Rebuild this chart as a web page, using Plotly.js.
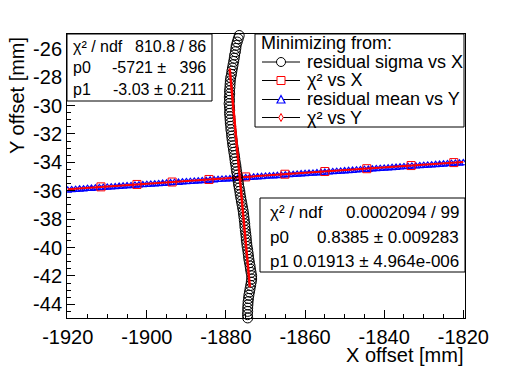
<!DOCTYPE html>
<html>
<head>
<meta charset="utf-8">
<script src="https://cdn.plot.ly/plotly-3.0.1.min.js"></script>
<style>
  html, body { margin: 0; padding: 0; background: #fff; }
  #plot { width: 518px; height: 370px; }
</style>
</head>
<body>
<div id="plot"></div>
<script>
// residual sigma vs X (black open circles)
var sigmaX = [-1876.65,-1876.9,-1877.15,-1877.4,-1877.5,-1877.6,-1877.8,-1877.9,-1878.05,-1878.2,
  -1878.35,-1878.5,-1878.6,-1878.8,-1878.9,-1878.95,-1879.0,-1879.1,-1879.05,-1879.15,
  -1879.1,-1879.2,-1879.1,-1879.05,-1879.1,-1879.0,-1878.95,-1878.9,-1878.8,-1878.75,
  -1878.6,-1878.55,-1878.45,-1878.35,-1878.25,-1878.1,-1878.0,-1877.85,-1877.75,-1877.65,
  -1877.5,-1877.4,-1877.3,-1877.15,-1877.0,-1876.9,-1876.8,-1876.65,-1876.5,-1876.4,
  -1876.25,-1876.1,-1875.95,-1875.8,-1875.65,-1875.55,-1875.45,-1875.35,-1875.25,-1875.2,
  -1875.1,-1875.0,-1874.9,-1874.85,-1874.75,-1874.65,-1874.5,-1874.4,-1874.3,-1874.2,
  -1874.05,-1873.9,-1873.8,-1873.65,-1873.5,-1873.5,-1873.6,-1873.75,-1873.9,-1874.05,
  -1874.2,-1874.3,-1874.4,-1874.45,-1874.5,-1874.5,-1874.55,-1874.5];
var sigmaY = [-25.07,-25.30,-25.53,-25.76,-25.98,-26.21,-26.44,-26.67,-26.90,-27.13,
  -27.36,-27.58,-27.81,-28.04,-28.27,-28.50,-28.73,-28.96,-29.18,-29.41,
  -29.64,-29.87,-30.10,-30.33,-30.56,-30.79,-31.01,-31.24,-31.47,-31.70,
  -31.93,-32.16,-32.39,-32.61,-32.84,-33.07,-33.30,-33.53,-33.76,-33.99,
  -34.21,-34.44,-34.67,-34.90,-35.13,-35.36,-35.59,-35.81,-36.04,-36.27,
  -36.50,-36.73,-36.96,-37.19,-37.41,-37.64,-37.87,-38.10,-38.33,-38.56,
  -38.79,-39.02,-39.24,-39.47,-39.70,-39.93,-40.16,-40.39,-40.62,-40.84,
  -41.07,-41.30,-41.53,-41.76,-41.99,-42.22,-42.44,-42.67,-42.90,-43.13,
  -43.36,-43.59,-43.82,-44.04,-44.27,-44.50,-44.73,-44.96];

// residual mean vs Y (blue open triangles)
var meanX = [-1920,-1919,-1918,-1917,-1916,-1915,-1914,-1913,-1912,-1911,
  -1910,-1909,-1908,-1907,-1906,-1905,-1904,-1903,-1902,-1901,
  -1900,-1899,-1898,-1897,-1896,-1895,-1894,-1893,-1892,-1891,
  -1890,-1889,-1888,-1887,-1886,-1885,-1884,-1883,-1882,-1881,
  -1880,-1879,-1878,-1877,-1876,-1875,-1874,-1873,-1872,-1871,
  -1870,-1869,-1868,-1867,-1866,-1865,-1864,-1863,-1862,-1861,
  -1860,-1859,-1858,-1857,-1856,-1855,-1854,-1853,-1852,-1851,
  -1850,-1849,-1848,-1847,-1846,-1845,-1844,-1843,-1842,-1841,
  -1840,-1839,-1838,-1837,-1836,-1835,-1834,-1833,-1832,-1831,
  -1830,-1829,-1828,-1827,-1826,-1825,-1824,-1823,-1822,-1821,-1820];
var meanY = [-35.98,-35.95,-35.93,-35.90,-35.89,-35.86,-35.85,-35.82,-35.80,-35.79,
  -35.77,-35.75,-35.74,-35.71,-35.69,-35.67,-35.66,-35.63,-35.61,-35.60,
  -35.58,-35.56,-35.54,-35.52,-35.50,-35.48,-35.46,-35.44,-35.43,-35.40,
  -35.38,-35.37,-35.35,-35.33,-35.31,-35.29,-35.27,-35.25,-35.23,-35.21,
  -35.19,-35.18,-35.16,-35.14,-35.12,-35.10,-35.08,-35.06,-35.04,-35.02,
  -35.00,-34.98,-34.97,-34.95,-34.93,-34.91,-34.89,-34.87,-34.85,-34.83,
  -34.81,-34.79,-34.78,-34.76,-34.74,-34.72,-34.70,-34.68,-34.66,-34.64,
  -34.62,-34.60,-34.58,-34.56,-34.54,-34.52,-34.51,-34.49,-34.47,-34.45,
  -34.43,-34.41,-34.39,-34.37,-34.35,-34.33,-34.31,-34.29,-34.28,-34.26,
  -34.24,-34.22,-34.20,-34.18,-34.16,-34.14,-34.12,-34.10,-34.08,-34.07,-34.05];

// chi2 vs X (red open squares)
var chiX = [-1911.6,-1902.5,-1893.6,-1884.3,-1875.0,-1865.1,-1855.0,-1844.4,-1833.2,-1822.4];
var chiY = [-35.73,-35.56,-35.39,-35.21,-35.03,-34.84,-34.65,-34.45,-34.23,-34.02];

// fit lines (red)
var fitVx = [-1879.05, -1873.95];
var fitVy = [-27.4, -42.8];
var fitHx = [-1920, -1820];
var fitHy = [-35.89, -33.98];

// axis ticks
var xTicks = [-1920, -1900, -1880, -1860, -1840, -1820];
var xTickText = ['-1920', '-1900', '-1880', '-1860', '-1840', '-1820'];
var yTicks = [-44, -42, -40, -38, -36, -34, -32, -30, -28, -26];
var yTickText = ['-44', '-42', '-40', '-38', '-36', '-34', '-32', '-30', '-28', '-26'];

// legend + stat boxes text
var legendHeader = 'Minimizing from:';
var legendNames = ['residual sigma vs X', '\u03c7\u00b2 vs X', 'residual mean vs Y', '\u03c7\u00b2 vs Y'];
var stat1Labels = ['\u03c7\u00b2 / ndf', 'p0', 'p1'];
var stat1Values = ['810.8 / 86', '-5721 \u00b1 \u00a0\u00a0396', '-3.03 \u00b1 0.211'];
var stat2Labels = ['\u03c7\u00b2 / ndf', 'p0', 'p1'];
var stat2Values = ['0.0002094 / 99', '0.8385 \u00b1 0.009283', '0.01913 \u00b1 4.964e-006'];

var W = 518, H = 370, ML = 67, MR = 53, MT = 34, MB = 52;
var PW = W - ML - MR, PH = H - MT - MB;
function fx(px) { return (px - ML) / PW; }
function fy(py) { return (H - MB - py) / PH; }

var FONT = 'Liberation Sans, Arial, Helvetica, sans-serif';

var traces = [
  {
    x: meanX, y: meanY, type: 'scatter', mode: 'markers',
    marker: { symbol: 'triangle-up-open', size: 7, color: 'rgb(0,0,255)', line: { width: 1.2 } },
    showlegend: false, hoverinfo: 'skip'
  },
  {
    x: fitHx, y: fitHy, type: 'scatter', mode: 'lines',
    line: { color: 'rgb(255,0,0)', width: 2 },
    showlegend: false, hoverinfo: 'skip'
  },
  {
    x: chiX, y: chiY, type: 'scatter', mode: 'markers',
    marker: { symbol: 'square-open', size: 8, color: 'rgb(255,0,0)', line: { width: 1 } },
    showlegend: false, hoverinfo: 'skip'
  },
  {
    x: sigmaX, y: sigmaY, type: 'scatter', mode: 'markers', cliponaxis: false,
    marker: { symbol: 'circle-open', size: 10, color: 'rgb(0,0,0)', line: { width: 1 } },
    showlegend: false, hoverinfo: 'skip'
  },
  {
    x: fitVx, y: fitVy, type: 'scatter', mode: 'lines',
    line: { color: 'rgb(255,0,0)', width: 2.5 },
    showlegend: false, hoverinfo: 'skip'
  }
];

var shapes = [];
var annotations = [];

function box(x0, y0, x1, y1) {
  shapes.push({ type: 'rect', xref: 'paper', yref: 'paper', layer: 'above',
    x0: fx(x0), x1: fx(x1), y0: fy(y1), y1: fy(y0),
    line: { color: 'black', width: 1 }, fillcolor: 'white' });
}
function text(t, px, py, anchor, size) {
  annotations.push({ xref: 'paper', yref: 'paper', x: fx(px), y: fy(py), text: t,
    xanchor: anchor, yanchor: 'middle', showarrow: false,
    font: { family: FONT, size: size, color: 'black' } });
}

// stat box 1 (fit of the circles)
box(67, 34, 212, 101);
var s1y = [46, 68, 90];
for (var i = 0; i < 3; i++) {
  text(stat1Labels[i], 71, s1y[i], 'left', 16);
  text(stat1Values[i], 208, s1y[i], 'right', 16);
}

// stat box 2 (fit of the triangles)
box(260, 198, 465, 272);
var s2y = [212, 237, 261];
for (var j = 0; j < 3; j++) {
  text(stat2Labels[j], 268, s2y[j], 'left', 17);
  text(stat2Values[j], 461, s2y[j], 'right', 17);
}

// legend
box(255, 34, 464, 127);
text(legendHeader, 259, 43, 'left', 18);
var ly = [62, 80.5, 99.5, 117.5];
var mx = 281;
for (var k = 0; k < 4; k++) {
  shapes.push({ type: 'line', xref: 'paper', yref: 'paper', layer: 'above',
    x0: fx(262), x1: fx(300), y0: fy(ly[k]), y1: fy(ly[k]), line: { color: 'black', width: 1 } });
  text(legendNames[k], 305, ly[k], 'left', 18);
}
// legend symbols
shapes.push({ type: 'circle', xref: 'paper', yref: 'paper', layer: 'above',
  x0: fx(mx - 4.5), x1: fx(mx + 4.5), y0: fy(ly[0] + 4.5), y1: fy(ly[0] - 4.5),
  line: { color: 'black', width: 1 }, fillcolor: 'white' });
shapes.push({ type: 'rect', xref: 'paper', yref: 'paper', layer: 'above',
  x0: fx(mx - 4), x1: fx(mx + 4), y0: fy(ly[1] + 4), y1: fy(ly[1] - 4),
  line: { color: 'red', width: 1 }, fillcolor: 'white' });
shapes.push({ type: 'path', xref: 'paper', yref: 'paper', layer: 'above',
  path: 'M' + fx(mx - 4) + ',' + fy(ly[2] + 3.5) + ' L' + fx(mx + 4) + ',' + fy(ly[2] + 3.5) +
        ' L' + fx(mx) + ',' + fy(ly[2] - 4) + ' Z',
  line: { color: 'blue', width: 1.2 }, fillcolor: 'white' });
shapes.push({ type: 'path', xref: 'paper', yref: 'paper', layer: 'above',
  path: 'M' + fx(mx) + ',' + fy(ly[3] - 4) + ' L' + fx(mx + 2.2) + ',' + fy(ly[3]) +
        ' L' + fx(mx) + ',' + fy(ly[3] + 4) + ' L' + fx(mx - 2.2) + ',' + fy(ly[3]) + ' Z',
  line: { color: 'red', width: 1 }, fillcolor: 'white' });

// axis titles (ROOT puts them at the end of the axis)
text('X offset [mm]', 465, 355, 'right', 20);
annotations.push({ xref: 'paper', yref: 'paper', x: fx(17), y: fy(96), text: 'Y offset [mm]',
  textangle: -90, xanchor: 'center', yanchor: 'middle', showarrow: false,
  font: { family: FONT, size: 20, color: 'black' } });

var layout = {
  width: W, height: H,
  margin: { l: ML, r: MR, t: MT, b: MB, pad: 0 },
  paper_bgcolor: 'white', plot_bgcolor: 'white',
  font: { family: FONT, size: 20, color: 'black' },
  showlegend: false,
  xaxis: {
    range: [-1920.18, -1819.57],
    tickmode: 'array', tickvals: xTicks, ticktext: xTickText,
    ticks: 'inside', ticklen: 8, tickwidth: 1, tickcolor: 'black',
    ticklabelstandoff: 1,
    minor: { tickmode: 'linear', tick0: -1920, dtick: 5, ticks: 'inside', ticklen: 4, tickcolor: 'black', showgrid: false },
    showline: true, mirror: true, linecolor: 'black', linewidth: 1,
    showgrid: false, zeroline: false,
    tickfont: { family: FONT, size: 20, color: 'black' }
  },
  yaxis: {
    range: [-44.965, -24.965],
    tickmode: 'array', tickvals: yTicks, ticktext: yTickText,
    ticks: 'inside', ticklen: 8, tickwidth: 1, tickcolor: 'black',
    minor: { tickmode: 'linear', tick0: -44, dtick: 0.5, ticks: 'inside', ticklen: 4, tickcolor: 'black', showgrid: false },
    showline: true, mirror: true, linecolor: 'black', linewidth: 1,
    showgrid: false, zeroline: false,
    tickfont: { family: FONT, size: 20, color: 'black' }
  },
  shapes: shapes,
  annotations: annotations
};

Plotly.newPlot('plot', traces, layout, { displayModeBar: false, staticPlot: true });
</script>
</body>
</html>
